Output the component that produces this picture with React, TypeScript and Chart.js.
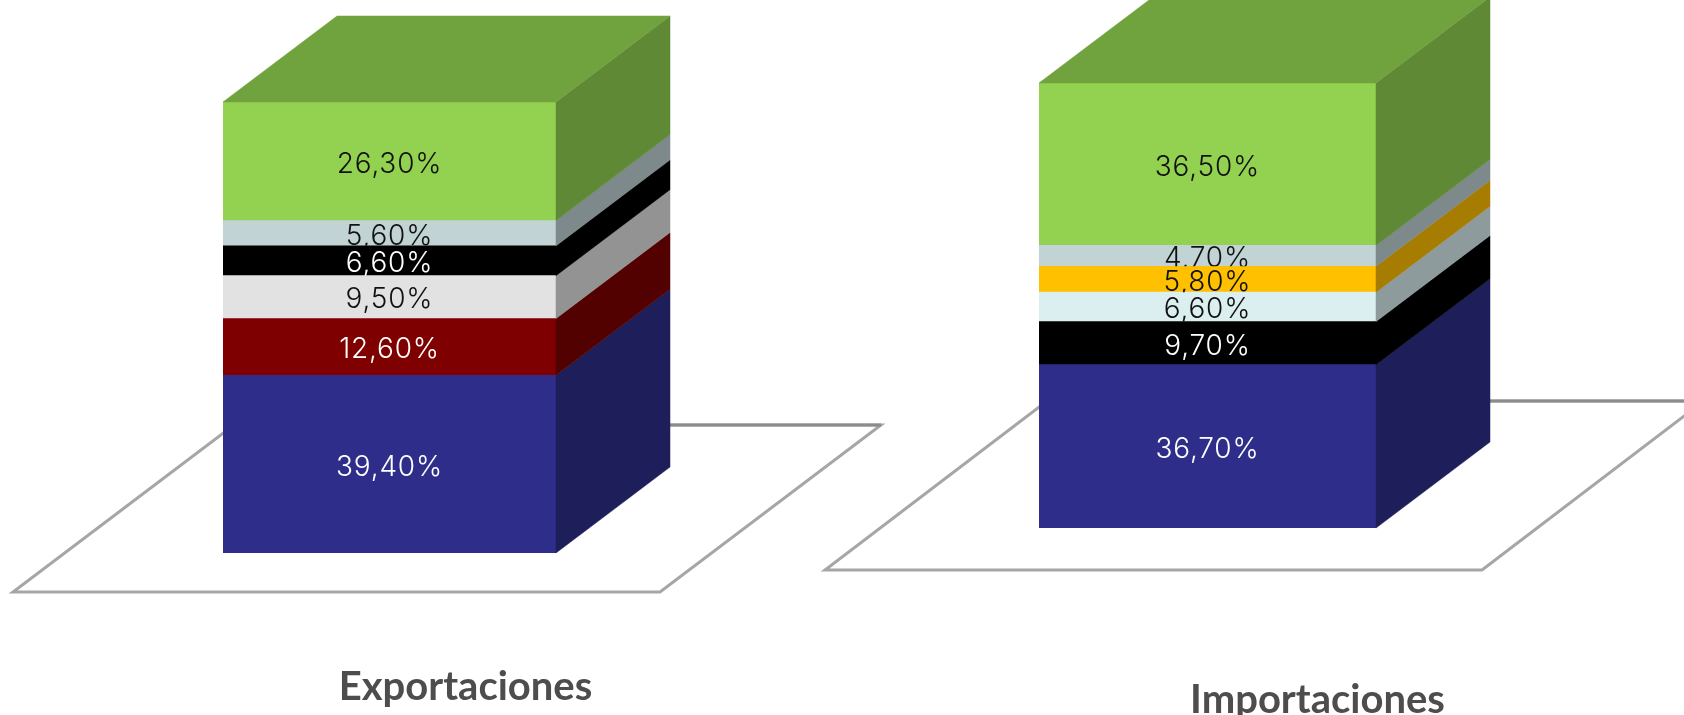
import React, { useEffect, useRef } from "react";
import { Chart, registerables } from "chart.js";

Chart.register(...registerables);

const exportCategories = ["Exportaciones"];
const importCategories = ["Importaciones"];

const exportValues = [39.4, 12.6, 9.5, 6.6, 5.6, 26.3];
const exportColors = ["#2E2E8A", "#7E0000", "#E2E2E2", "#000000", "#C2D3D6", "#92D250"];
const exportTextColors = ["#FFFFFF", "#FFFFFF", "#111111", "#FFFFFF", "#111111", "#111111"];

const importValues = [36.7, 9.7, 6.6, 5.8, 4.7, 36.5];
const importColors = ["#2E2E8A", "#000000", "#DBEEF0", "#FFC000", "#C2D3D6", "#92D250"];
const importTextColors = ["#FFFFFF", "#FFFFFF", "#111111", "#111111", "#111111", "#111111"];

const DEPTH_X = 114;
const DEPTH_Y = 86;

function shade(hex: string, factor: number): string {
  const n = parseInt(hex.slice(1), 16);
  const r = Math.round(((n >> 16) & 255) * factor);
  const g = Math.round(((n >> 8) & 255) * factor);
  const b = Math.round((n & 255) * factor);
  return `rgb(${r},${g},${b})`;
}

const poly = (ctx: CanvasRenderingContext2D, pts: number[][], fill: string) => {
  ctx.beginPath();
  pts.forEach(([x, y], i) => (i ? ctx.lineTo(x, y) : ctx.moveTo(x, y)));
  ctx.closePath();
  ctx.fillStyle = fill;
  ctx.fill();
  ctx.strokeStyle = fill;
  ctx.lineWidth = 0.5;
  ctx.stroke();
};

const floorPlugin = {
  id: "floor3d",
  beforeDatasetsDraw(chart: any, _args: any, opts: any) {
    const { ctx, chartArea: a } = chart;
    const fy = a.bottom + opts.front;
    const by = a.bottom - opts.back;
    const fl = a.left - opts.left;
    const fr = fl + opts.width;
    ctx.save();
    ctx.lineJoin = "miter";
    ctx.strokeStyle = "#A6A6A6";
    ctx.lineWidth = 3;
    ctx.beginPath();
    ctx.moveTo(fl, fy);
    ctx.lineTo(fr, fy);
    ctx.lineTo(fr + opts.skew, by);
    ctx.lineTo(fl + opts.skew, by);
    ctx.closePath();
    ctx.stroke();
    ctx.strokeStyle = "#8C8C8C";
    ctx.beginPath();
    ctx.moveTo(fr + opts.skew, by);
    ctx.lineTo(fl + opts.skew, by);
    ctx.stroke();
    ctx.restore();
  },
};

const boxPlugin = {
  id: "box3d",
  afterDatasetsDraw(chart: any) {
    const { ctx } = chart;
    const last = chart.data.datasets.length - 1;
    ctx.save();
    chart.data.datasets.forEach((ds: any, i: number) => {
      const el = chart.getDatasetMeta(i).data[0];
      const l = el.x - el.width / 2;
      const r = el.x + el.width / 2;
      const top = el.y;
      const base = el.base;
      poly(
        ctx,
        [
          [r, top],
          [r + DEPTH_X, top - DEPTH_Y],
          [r + DEPTH_X, base - DEPTH_Y],
          [r, base],
        ],
        shade(ds.backgroundColor, 0.65)
      );
      if (i === last) {
        poly(
          ctx,
          [
            [l, top],
            [r, top],
            [r + DEPTH_X, top - DEPTH_Y],
            [l + DEPTH_X, top - DEPTH_Y],
          ],
          shade(ds.backgroundColor, 0.77)
        );
      }
      const value = ds.data[0];
      const text = value.toFixed(2).replace(".", ",") + "%";
      ctx.save();
      ctx.beginPath();
      ctx.rect(l, top, el.width, base - top);
      ctx.clip();
      ctx.font = '300 28px "Inter", "DejaVu Sans", sans-serif';
      (ctx as any).letterSpacing = "0.8px";
      ctx.textAlign = "center";
      ctx.textBaseline = "middle";
      ctx.fillStyle = ds.labelColor;
      ctx.fillText(text, el.x, (top + base) / 2 + 3);
      ctx.restore();
    });
    ctx.restore();
  },
};

type PanelProps = {
  categories: string[];
  values: number[];
  colors: string[];
  textColors: string[];
  left: number;
  right: number;
  top: number;
  bottom: number;
  labelOffset: number;
  labelPadding: number;
  floor: { front: number; back: number; left: number; width: number; skew: number };
};

function Panel(p: PanelProps) {
  const ref = useRef<HTMLCanvasElement>(null);
  useEffect(() => {
    const chart = new Chart(ref.current as HTMLCanvasElement, {
      type: "bar",
      data: {
        labels: p.categories,
        datasets: p.values.map((v, i) => ({
          label: `${i}`,
          data: [v],
          backgroundColor: p.colors[i],
          labelColor: p.textColors[i],
          borderWidth: 0,
          barPercentage: 1,
          categoryPercentage: 1,
        })) as any,
      },
      options: {
        animation: false,
        responsive: false,
        devicePixelRatio: 1,
        layout: { padding: { left: p.left, right: 1684 - p.right, top: p.top, bottom: 0 } },
        plugins: { legend: { display: false }, tooltip: { enabled: false }, floor3d: p.floor },
        scales: {
          x: {
            stacked: true,
            grid: { display: false },
            border: { display: false },
            afterFit: (s: any) => {
              s.height = 715 - p.bottom;
            },
            ticks: {
              autoSkip: false,
              maxRotation: 0,
              minRotation: 0,
              labelOffset: p.labelOffset,
              padding: p.labelPadding,
              color: "#4D4D4D",
              font: { family: "Lato, 'Open Sans', sans-serif", size: 40, weight: "bold" },
            },
          },
          y: { stacked: true, display: false, min: 0, max: 100 },
        },
      },
      plugins: [floorPlugin, boxPlugin],
    } as any);
    return () => chart.destroy();
  }, []);
  return (
    <canvas
      ref={ref}
      width={1684}
      height={715}
      style={{ position: "absolute", left: 0, top: 0, width: 1684, height: 715 }}
    />
  );
}

export default function App() {
  useEffect(() => {
    document.body.style.margin = "0";
    document.body.style.background = "#FFFFFF";
  }, []);
  return (
    <div style={{ position: "relative", width: 1684, height: 715, overflow: "hidden", background: "#FFFFFF" }}>
      <Panel
        categories={exportCategories}
        values={exportValues}
        colors={exportColors}
        textColors={exportTextColors}
        left={223}
        right={556}
        top={102}
        bottom={553}
        labelOffset={76}
        labelPadding={102}
        floor={{ front: 39, back: 128, left: 210, width: 647, skew: 221 }}
      />
      <Panel
        categories={importCategories}
        values={importValues}
        colors={importColors}
        textColors={importTextColors}
        left={1039}
        right={1376}
        top={83}
        bottom={528}
        labelOffset={110}
        labelPadding={140}
        floor={{ front: 42, back: 127, left: 214, width: 657, skew: 222 }}
      />
    </div>
  );
}
